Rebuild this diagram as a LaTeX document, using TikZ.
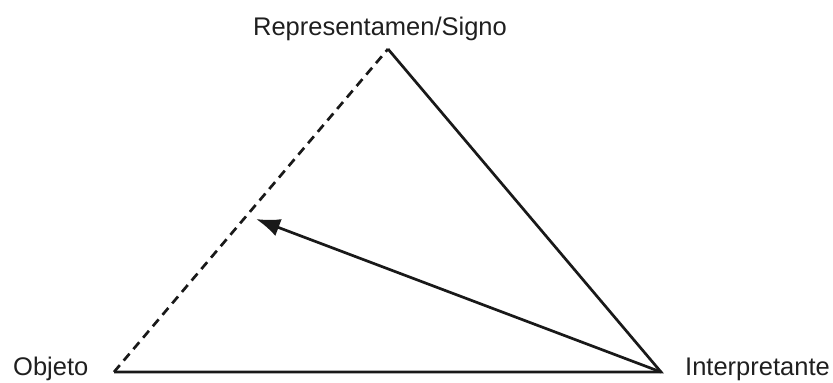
\documentclass[tikz,border=0pt]{standalone}
\usepackage{fontspec}
\setmainfont{Liberation Sans}
\usetikzlibrary{arrows.meta}
\begin{document}
\begin{tikzpicture}[x=1pt,y=-1pt,
  lbl/.style={inner sep=0pt,text=black!88,font=\fontsize{25.5}{28}\selectfont},
  edge/.style={line width=2.7pt,black!90},
  dashedge/.style={edge,dash pattern=on 9pt off 6pt}]
\useasboundingbox (0,0) rectangle (833,383);
\coordinate (S) at (388,49);
\coordinate (O) at (114,372);
\coordinate (I) at (661,372);
\coordinate (M) at (256,219);
\node[lbl,anchor=base] (ts) at (380,35) {Representamen/Signo};
\node[lbl,anchor=base west] (to) at (13,375) {Objeto};
\node[lbl,anchor=base west] (ti) at (685,375) {Interpretante};
\draw[dashedge] (O) -- (S);
\draw[edge,line join=miter] (O) -- (I) -- (S);
\draw[edge,-{Latex[length=24pt 0,width=18pt 0]}] (I) -- (M);
\end{tikzpicture}
\end{document}
